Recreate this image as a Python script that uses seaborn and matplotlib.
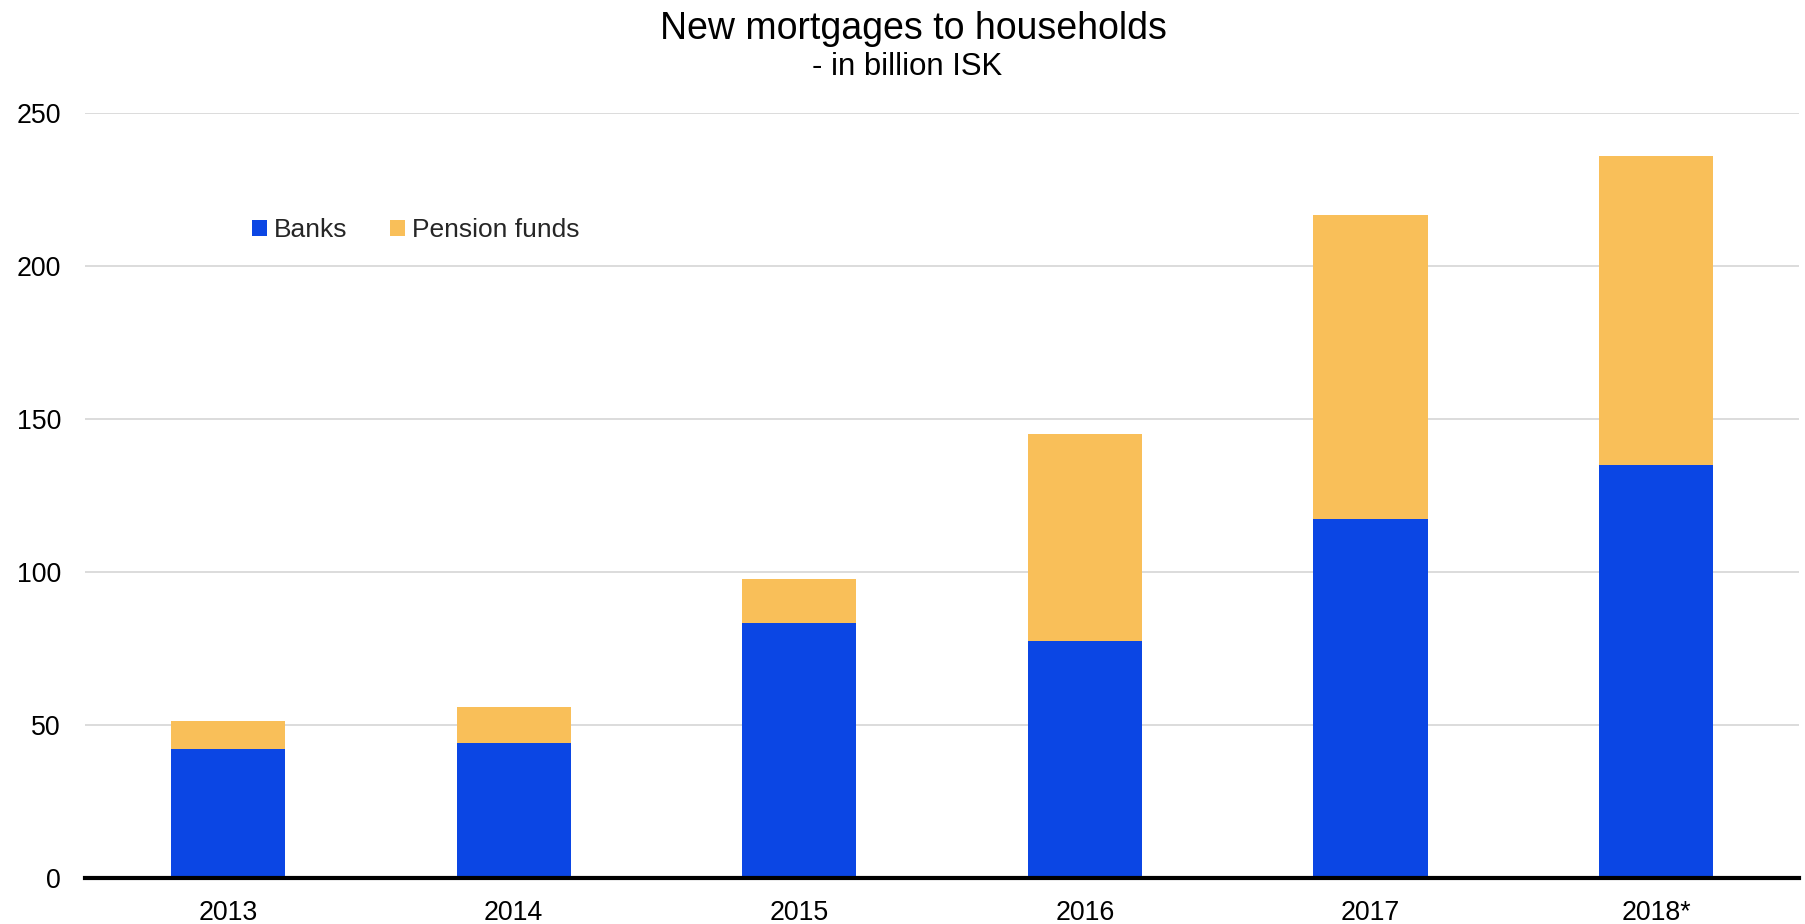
import matplotlib
matplotlib.use("Agg")
import matplotlib.pyplot as plt
import seaborn as sns
import pandas as pd
import numpy as np
from matplotlib.patches import Patch

years = ["2013", "2014", "2015", "2016", "2017", "2018*"]
banks = [42.2, 44.0, 83.4, 77.5, 117.4, 134.9]
pension_funds = [9.0, 11.8, 14.2, 67.4, 99.2, 100.9]
y_ticks = [0, 50, 100, 150, 200, 250]

BLUE = "#0b46e4"
ORANGE = "#f9bf59"

sns.set_theme(style="white")
plt.rcParams["font.family"] = ["Liberation Sans", "DejaVu Sans"]

df = pd.DataFrame({"year": years, "banks": banks, "pension": pension_funds})
df["total"] = df["banks"] + df["pension"]

fig = plt.figure(figsize=(18.05, 9.24), dpi=100)
ax = fig.add_axes([0.0472, 0.0498, 0.9495, 0.8282])

# stacked bars: totals first, banks drawn over the lower part
sns.barplot(data=df, x="year", y="total", color=ORANGE, width=0.4,
            saturation=1, linewidth=0, ax=ax, zorder=3)
sns.barplot(data=df, x="year", y="banks", color=BLUE, width=0.4,
            saturation=1, linewidth=0, ax=ax, zorder=4)

ax.set_xlim(-0.5, len(years) - 0.5)
ax.set_ylim(0, 250)
ax.set_yticks(y_ticks)
ax.set_yticklabels([str(t) for t in y_ticks])
ax.set_xlabel("")
ax.set_ylabel("")

ax.yaxis.grid(True, color="#d9d9d9", linewidth=1.3, zorder=0)
ax.xaxis.grid(False)
for side in ["left", "right", "top"]:
    ax.spines[side].set_visible(False)
ax.spines["bottom"].set_color("black")
ax.spines["bottom"].set_linewidth(3)
ax.spines["bottom"].set_zorder(5)

ax.tick_params(axis="both", length=0, labelsize=19.3, colors="black")
ax.tick_params(axis="y", pad=17.5)
ax.tick_params(axis="x", pad=16)

fig.text(913 / 1805, 1 - 29 / 924, "New mortgages to households", ha="center",
         va="center", fontsize=27, color="black")
fig.text(907 / 1805, 1 - 67 / 924, "- in billion ISK", ha="center",
         va="center", fontsize=22.4, color="black")

handles = [Patch(facecolor=BLUE, edgecolor="none", label="Banks"),
           Patch(facecolor=ORANGE, edgecolor="none", label="Pension funds")]
fig.legend(handles=handles, loc="center left",
           bbox_to_anchor=(252 / 1805, 1 - 230 / 924), ncol=2, frameon=False,
           fontsize=19.0, handlelength=0.56, handleheight=0.56,
           handletextpad=0.25, columnspacing=1.65, borderpad=0, borderaxespad=0)

fig.savefig("out.png", dpi=100, facecolor="white")
